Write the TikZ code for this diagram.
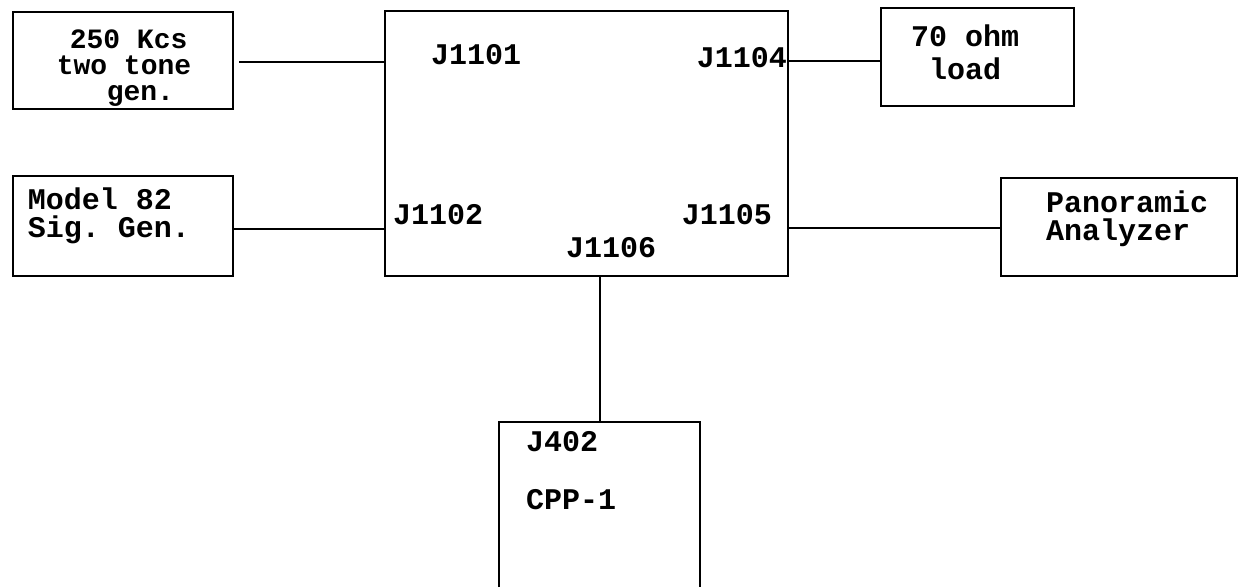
\documentclass[tikz,border=0pt]{standalone}
\usepackage{fontspec}
\setmonofont{Liberation Mono}
\usetikzlibrary{calc}

\begin{document}
\begin{tikzpicture}[x=1pt,y=-1pt,line width=2.2pt,
  blk/.style={draw,rectangle,inner sep=0pt,anchor=north west},
  txt/.style={inner sep=0pt,font=\ttfamily\bfseries\fontsize{30}{#1}\selectfont},
  txt/.default=28]
  \useasboundingbox (0,0) rectangle (1241,587);
  % boxes
  \node[blk,minimum width=220pt,minimum height=97pt]  (gen)   at (12,11)   {};
  \node[blk,minimum width=220pt,minimum height=100pt] (model) at (12,175)  {};
  \node[blk,minimum width=403pt,minimum height=265pt] (main)  at (384,10)  {};
  \node[blk,minimum width=193pt,minimum height=98pt]  (load)  at (880,7)   {};
  \node[blk,minimum width=236pt,minimum height=98pt]  (pan)   at (1000,177) {};
  \node[inner sep=0pt,minimum width=199pt,minimum height=163pt,anchor=north west] (cpp) at (499,422) {};
  \draw (cpp.south west) -- (cpp.north west) -- (cpp.north east) -- (cpp.south east);
  % box texts
  \node[inner sep=0pt,align=left,font=\ttfamily\bfseries\fontsize{28}{26}\selectfont] (gent) at (124,68)
    {\hspace*{13pt}250 Kcs\\two tone\\\hspace*{50pt}gen.};
  \node[txt,align=left] (modelt) at (109,216) {Model 82\\Sig. Gen.};
  \node[txt=33,align=center] (loadt) at (965,52) {70 ohm\\load};
  \node[txt,align=left] (pant) at (1127,219) {Panoramic\\Analyzer};
  \node[txt,anchor=west] (j402) at (525,442) {J402};
  \node[txt,anchor=west] (cppt) at (525,500) {CPP-1};
  % jacks
  \node[txt,anchor=west] (j1101) at (430,55)  {J1101};
  \node[txt,anchor=west] (j1102) at (392,215) {J1102};
  \node[txt,anchor=east] (j1104) at (788,58)  {J1104};
  \node[txt,anchor=east] (j1105) at (773,215) {J1105};
  \node[txt] (j1106) at (611,248) {J1106};
  % connections
  \draw ($(gen.east)+(5,1)$) -- ($(gen.east -| main.west)+(0,1)$);
  \draw ($(model.east)+(0,3)$) -- ($(model.east -| main.west)+(0,3)$);
  \draw ($(load.west)+(0,4)$) -- ($(load.west -| main.east)+(0,4)$);
  \draw ($(pan.west)+(0,1)$) -- ($(pan.west -| main.east)+(0,1)$);
  \draw (cpp.north) -- (cpp.north |- main.south);
\end{tikzpicture}
\end{document}
